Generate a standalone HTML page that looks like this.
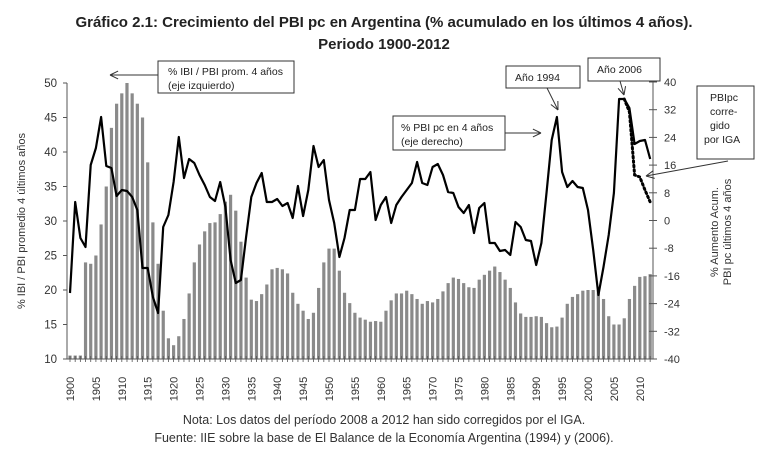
<!DOCTYPE html>
<html><head><meta charset="utf-8"><style>
body{margin:0;background:#fff;width:768px;height:458px;overflow:hidden}
svg{display:block;font-family:"Liberation Sans",sans-serif}
</style></head><body>
<svg id="s" width="768" height="458" xmlns="http://www.w3.org/2000/svg">
<text x="384" y="27" text-anchor="middle" font-size="15" font-weight="bold" fill="#222" font-family="Liberation Sans Narrow, Liberation Sans, sans-serif">Gráfico 2.1: Crecimiento del PBI pc en Argentina (% acumulado en los últimos 4 años).</text>
<text x="384" y="49" text-anchor="middle" font-size="15" font-weight="bold" fill="#222">Periodo 1900-2012</text>
<g id="g"></g>
<text x="384" y="424" text-anchor="middle" font-size="12.5" fill="#333">Nota: Los datos del período 2008 a 2012 han sido corregidos por el IGA.</text>
<text x="384" y="442" text-anchor="middle" font-size="12.5" fill="#333">Fuente: IIE sobre la base de El Balance de la Economía Argentina (1994) y (2006).</text>
</svg>
<script>
var g=document.getElementById('g');var h='';
function X(y){return 70+(y-1900)*5.18}
function YL(v){return 359-(v-10)*6.9}
var bars=[10.5,10.5,10.5,24,23.8,25,29.5,35,43.5,47,48.5,50,48.5,47,45,38.5,29.8,23.8,17,13,12,13.3,15.8,19.5,24,26.6,28.5,29.7,29.8,31,32.8,33.8,31.5,27,21.8,18.6,18.4,19.4,20.8,23,23.2,23,22.4,19.6,18,17,15.8,16.7,20.3,24,26,26,22.8,19.6,18.1,16.7,16,15.7,15.4,15.5,15.4,17,18.5,19.5,19.5,19.9,19.4,18.7,18,18.4,18.2,18.7,19.8,21,21.8,21.6,21,20.4,20.3,21.5,22.2,22.8,23.4,22.6,21.5,20.3,18.2,16.6,16.1,16.1,16.2,16.1,15.2,14.6,14.7,16,18,19,19.4,19.9,20,20,20,18.7,16.2,15,15,15.9,18.7,20.6,21.9,22,22.3];
for(var i=0;i<bars.length;i++){var x=X(1900+i);var y=YL(bars[i]);h+='<rect x="'+(x-1.6)+'" y="'+y+'" width="3.2" height="'+(359-y)+'" fill="#8a8a8a"/>';}
var ly=[293,202,238,247,165,148,117,166,168,196,190,191,197,210,268,268,297,313,227,215,182,137,178,159,163,175,185,197,201,182,207,260,283,280,237,197,183,173,202,202,199,206,203,218,186,216,190,146,167,160,200,223,257,238,210,210,179,179,172,220,205,197,223,205,197,190,183,162,183,185,167,164,175,192,193,207,213,205,233,208,203,243,243,251,250,255,222,227,240,241,265,243,192,140,117,172,187,181,187,188,210,250,295,267,235,193,99,99,108,144,141,140,159];
var p='';for(i=0;i<ly.length;i++)p+=(i?'L':'M')+X(1900+i).toFixed(1)+' '+ly[i];
h+='<path d="'+p+'" fill="none" stroke="#000" stroke-width="2.2" stroke-linejoin="round"/>';
h+='<path d="M'+X(2007)+' 99L'+X(2008)+' 112L'+X(2009)+' 175L'+X(2010)+' 177L'+X(2011)+' 190L'+X(2012)+' 202" fill="none" stroke="#000" stroke-width="3" stroke-dasharray="1.5 3" stroke-linecap="round"/>';
// left axis
h+='<line x1="67" y1="83" x2="67" y2="359" stroke="#555"/><line x1="67" y1="359" x2="653" y2="359" stroke="#555"/>';
for(var v=10;v<=50;v+=5){var y=YL(v);h+='<line x1="63" x2="67" y1="'+y+'" y2="'+y+'" stroke="#555"/><text x="57" y="'+(y+4)+'" text-anchor="end" font-size="11.5" fill="#333">'+v+'</text>';}
for(i=0;i<=112;i++){var x=X(1900+i);h+='<line x1="'+x+'" x2="'+x+'" y1="356" y2="362" stroke="#555" stroke-width="0.8"/>';}
for(var yr=1900;yr<=2010;yr+=5){var x=X(yr);h+='<text transform="translate('+(x+4)+',389) rotate(-90)" text-anchor="middle" font-size="11" fill="#333">'+yr+'</text>';}
// right axis
h+='<line x1="653" y1="82" x2="653" y2="359" stroke="#555"/>';
for(v=-40;v<=40;v+=8){var y=82+(40-v)*3.4625;h+='<line x1="649" x2="657" y1="'+y+'" y2="'+y+'" stroke="#555"/><text x="664" y="'+(y+4)+'" font-size="11" fill="#333">'+v+'</text>';}
h+='<text transform="translate(25,221) rotate(-90)" text-anchor="middle" font-size="11" fill="#333">% IBI / PBI promedio 4 últimos años</text>';
h+='<text transform="translate(718,232) rotate(-90)" text-anchor="middle" font-size="11" fill="#333">% Aumento Acum.</text>';
h+='<text transform="translate(731,232) rotate(-90)" text-anchor="middle" font-size="11" fill="#333">PBI pc últimos 4 años</text>';
// annotations
function box(x,y,w,hh){return '<rect x="'+x+'" y="'+y+'" width="'+w+'" height="'+hh+'" fill="#fff" stroke="#333"/>';}
function arrow(x1,y1,x2,y2){var a=Math.atan2(y2-y1,x2-x1),l=9;var s='<line x1="'+x1+'" y1="'+y1+'" x2="'+x2+'" y2="'+y2+'" stroke="#333"/>';for(var d of[-0.45,0.45]){s+='<line x1="'+x2+'" y1="'+y2+'" x2="'+(x2-l*Math.cos(a+d))+'" y2="'+(y2-l*Math.sin(a+d))+'" stroke="#333"/>';}return s;}
h+=box(158,61,136,32)+'<text x="168" y="75" font-size="10.5" fill="#222">% IBI / PBI prom. 4 años</text><text x="168" y="89" font-size="10.5" fill="#222">(eje izquierdo)</text>'+arrow(158,75,110,75);
h+=box(393,116,112,34)+'<text x="401" y="131" font-size="10.5" fill="#222">% PBI pc en 4 años</text><text x="401" y="145" font-size="10.5" fill="#222">(eje derecho)</text>'+arrow(505,133,541,133);
h+=box(506,66,74,22)+'<text x="515" y="81" font-size="10.5" fill="#222">Año 1994</text>'+arrow(547,88,558,110);
h+=box(588,58,72,23)+'<text x="597" y="73" font-size="10.5" fill="#222">Año 2006</text>'+arrow(620,81,624,95);
h+=box(697,86,57,73)+'<text x="710" y="101" font-size="10.5" fill="#222">PBIpc</text><text x="710" y="115" font-size="10.5" fill="#222">corre-</text><text x="710" y="129" font-size="10.5" fill="#222">gido</text><text x="704" y="143" font-size="10.5" fill="#222">por IGA</text>'+arrow(728,161,646,176);
g.innerHTML=h;
</script>
</body></html>
